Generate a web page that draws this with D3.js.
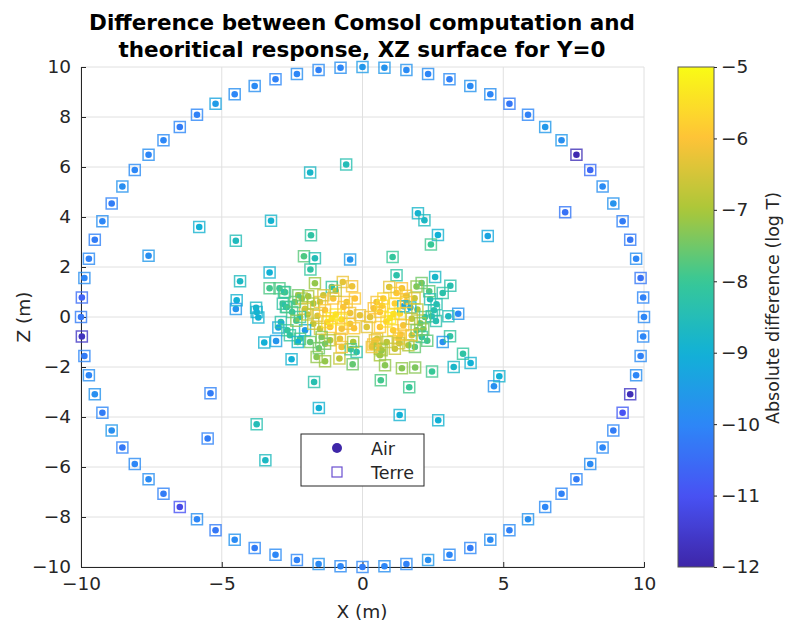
<!DOCTYPE html>
<html>
<head>
<meta charset="utf-8">
<script src="https://cdn.jsdelivr.net/npm/d3@7"></script>
<style>
  body { margin: 0; background: #fff; }
  svg { font-family: "DejaVu Sans", sans-serif; }
</style>
</head>
<body>
<svg id="chart" width="794" height="639"></svg>
<script>
// ---- data ----
const titleLines = ["Difference between Comsol computation and", "theoritical response, XZ surface for Y=0"];
const xTicks = [-10, -5, 0, 5, 10];
const zTicks = [-10, -8, -6, -4, -2, 0, 2, 4, 6, 8, 10];
const colorTicks = [-12, -11, -10, -9, -8, -7, -6, -5];
// parula colours at each colour tick
const parula = ["#3e26a8", "#4852f4", "#2d87f7", "#12b1d6", "#37c897", "#abc739", "#fec338", "#f9fb15"];
const legendLabels = ["Air", "Terre"];

// outer ring of receivers: [X, Z, air, terre]
const ring = [
  [10.00, 0.00, -10.0, -9.9], [9.97, 0.78, -10.1, -10.0], [9.88, 1.56, -10.4, -10.3], [9.72, 2.33, -10.0, -9.8],
  [9.51, 3.09, -10.3, -10.2], [9.24, 3.83, -10.2, -10.1], [8.91, 4.54, -9.7, -9.7], [8.53, 5.22, -9.9, -9.8],
  [8.09, 5.88, -10.6, -10.5], [7.60, 6.49, -11.9, -11.8], [7.07, 7.07, -9.8, -9.6], [6.49, 7.60, -9.6, -9.6],
  [5.88, 8.09, -10.1, -10.0], [5.22, 8.53, -10.3, -10.2], [4.54, 8.91, -10.0, -9.8], [3.83, 9.24, -9.9, -9.7],
  [3.09, 9.51, -10.1, -9.9], [2.33, 9.72, -10.0, -9.8], [1.56, 9.88, -9.9, -9.7], [0.78, 9.97, -9.7, -9.6],
  [0.00, 10.00, -9.6, -9.5], [-0.78, 9.97, -10.0, -9.8], [-1.56, 9.88, -10.1, -9.9], [-2.33, 9.72, -10.0, -9.8],
  [-3.09, 9.51, -10.1, -10.0], [-3.83, 9.24, -9.9, -9.8], [-4.54, 8.91, -10.0, -9.8], [-5.22, 8.53, -9.5, -9.3],
  [-5.88, 8.09, -10.1, -10.0], [-6.49, 7.60, -10.2, -10.0], [-7.07, 7.07, -10.0, -9.9], [-7.60, 6.49, -10.0, -9.8],
  [-8.09, 5.88, -10.0, -9.9], [-8.53, 5.22, -9.8, -9.7], [-8.91, 4.54, -10.2, -10.1], [-9.24, 3.83, -10.0, -9.8],
  [-9.51, 3.09, -10.2, -10.1], [-9.72, 2.33, -10.1, -9.9], [-9.88, 1.56, -10.0, -9.8], [-9.97, 0.78, -10.7, -10.5],
  [-10.00, 0.00, -10.3, -10.2], [-9.97, -0.78, -11.7, -11.6], [-9.88, -1.56, -10.2, -10.0], [-9.72, -2.33, -10.0, -9.8],
  [-9.51, -3.09, -9.8, -9.7], [-9.24, -3.83, -10.2, -10.0], [-8.91, -4.54, -9.8, -9.6], [-8.53, -5.22, -10.3, -10.1],
  [-8.09, -5.88, -10.0, -9.9], [-7.60, -6.49, -9.9, -9.8], [-7.07, -7.07, -10.2, -10.1], [-6.49, -7.60, -11.2, -11.0],
  [-5.88, -8.09, -10.0, -9.8], [-5.22, -8.53, -10.3, -10.2], [-4.54, -8.91, -9.9, -9.7], [-3.83, -9.24, -10.2, -10.0],
  [-3.09, -9.51, -10.0, -9.9], [-2.33, -9.72, -10.1, -10.0], [-1.56, -9.88, -9.9, -9.7], [-0.78, -9.97, -10.0, -9.9],
  [0.00, -10.00, -10.2, -10.0], [0.78, -9.97, -10.0, -9.8], [1.56, -9.88, -10.1, -9.9], [2.33, -9.72, -9.8, -9.6],
  [3.09, -9.51, -10.0, -9.9], [3.83, -9.24, -10.2, -10.0], [4.54, -8.91, -9.9, -9.8], [5.22, -8.53, -10.1, -9.9],
  [5.88, -8.09, -9.8, -9.7], [6.49, -7.60, -10.0, -9.9], [7.07, -7.07, -10.1, -10.0], [7.60, -6.49, -10.2, -10.0],
  [8.09, -5.88, -9.9, -9.8], [8.53, -5.22, -10.0, -9.9], [8.91, -4.54, -10.2, -10.0], [9.24, -3.83, -11.0, -10.8],
  [9.51, -3.09, -11.8, -11.6], [9.72, -2.33, -10.0, -9.8], [9.88, -1.56, -10.1, -9.9], [9.97, -0.78, -10.0, -9.9]
];

// scattered interior receivers: [X, Z, air, terre]
const inner = [
  [-5.80, 3.60, -9.0, -8.9], [-7.60, 2.45, -9.8, -9.6], [-4.50, 3.05, -8.6, -8.5], [-3.25, 3.85, -8.9, -8.8],
  [-1.86, 5.78, -8.8, -8.7], [-0.58, 6.10, -8.5, -8.4], [-1.83, 3.27, -8.2, -8.1], [-2.08, 2.43, -7.8, -7.7],
  [-1.69, 2.35, -8.5, -8.4], [-0.44, 2.30, -9.7, -9.5], [-1.85, 1.90, -8.2, -8.1], [-3.30, 1.78, -9.0, -8.9],
  [-4.35, 1.43, -8.7, -8.6], [-1.69, 1.35, -7.2, -7.1], [-0.70, 1.40, -6.3, -6.2], [-0.37, 1.23, -6.2, -6.1],
  [-1.09, 1.20, -8.3, -8.2], [-3.30, 1.15, -7.9, -7.8], [-2.95, 1.15, -7.9, -7.8], [-2.75, 0.99, -7.8, -7.7],
  [7.20, 4.19, -10.4, -10.3], [1.97, 4.15, -8.9, -8.8], [2.20, 3.87, -8.7, -8.6], [2.68, 3.28, -9.0, -8.9],
  [2.43, 2.90, -8.0, -7.9], [4.45, 3.24, -9.3, -9.2], [1.07, 2.40, -8.1, -8.0], [1.21, 1.67, -8.3, -8.2],
  [2.58, 1.60, -8.8, -8.7], [3.12, 1.25, -8.4, -8.3], [1.92, 1.22, -7.3, -7.2], [2.10, 1.36, -7.6, -7.5],
  [2.37, 1.03, -7.8, -7.7], [2.85, 0.96, -8.3, -8.2], [1.55, 0.85, -6.3, -6.2], [1.21, 0.96, -5.9, -5.8],
  [-5.40, -3.05, -10.2, -10.1], [-5.50, -4.86, -10.2, -10.1], [-1.72, -2.60, -8.4, -8.3], [-1.55, -3.64, -9.0, -8.9],
  [-3.76, -4.29, -8.5, -8.4], [-3.45, -5.73, -8.7, -8.6], [0.65, -2.53, -7.9, -7.8], [1.66, -2.81, -8.0, -7.9],
  [1.32, -3.92, -9.0, -8.9], [2.69, -4.13, -9.0, -8.9], [4.67, -2.77, -9.8, -9.7], [4.86, -2.37, -9.0, -8.9],
  [2.47, -2.18, -8.0, -7.9], [3.24, -2.00, -8.8, -8.7], [1.40, -2.05, -7.3, -7.2], [1.87, -2.02, -7.4, -7.3],
  [-4.47, 0.67, -9.0, -8.9], [-4.50, 0.32, -9.7, -9.6], [-2.83, 0.53, -8.3, -8.2], [-2.72, 0.40, -8.3, -8.2],
  [-3.78, 0.37, -8.8, -8.7], [-3.76, 0.20, -9.0, -8.9], [-3.70, -0.02, -9.0, -8.9], [-2.99, -0.42, -9.3, -9.2],
  [-2.67, -0.53, -8.1, -8.0], [-3.07, -0.96, -9.7, -9.3], [-3.49, -1.02, -9.0, -8.9], [-2.52, -1.69, -9.0, -8.9],
  [-1.33, -1.77, -7.2, -7.1], [-1.63, -1.60, -7.3, -7.2], [-0.82, -1.66, -6.8, -6.7], [-0.35, -1.89, -7.6, -7.5],
  [-0.21, -1.40, -8.4, -8.3], [-0.42, -1.29, -7.9, -7.8], [0.52, -0.87, -6.5, -6.4], [0.62, -1.53, -7.1, -7.0],
  [0.68, -1.33, -7.2, -7.1], [0.80, -1.93, -7.3, -7.2], [3.57, -1.47, -8.2, -8.1], [3.84, -1.84, -9.0, -8.9],
  [3.11, -0.77, -8.2, -8.1], [2.85, -1.00, -9.8, -9.6], [3.40, 0.13, -9.9, -9.7], [3.05, 0.03, -8.6, -8.5],
  [2.61, -0.16, -8.4, -8.3], [2.54, 0.27, -8.3, -8.2], [2.63, 0.51, -8.5, -8.4], [2.40, 0.71, -8.5, -8.4],
  [2.46, 0.03, -8.5, -8.4], [1.70, 0.38, -9.2, -8.8], [1.45, 0.43, -9.4, -8.9], [2.22, 0.00, -7.9, -7.8],
  [2.11, -0.80, -8.2, -8.1], [2.16, -0.49, -7.6, -7.5], [1.86, -1.20, -7.7, -7.6], [1.63, -1.13, -7.0, -6.9],
  [1.29, -0.86, -6.3, -6.2], [0.38, -1.10, -6.1, -6.0],
  // dense centre, left lobe
  [-1.09, -0.05, -5.3, -5.3], [-0.95, 0.10, -5.5, -5.4], [-1.25, -0.20, -5.6, -5.5], [-2.79, 1.00, -8.2, -8.1],
  [-2.16, 0.74, -7.0, -6.9], [-1.75, 0.54, -7.2, -7.1], [-1.51, 0.60, -6.3, -6.2], [-2.04, 0.33, -6.5, -6.4],
  [-1.33, 0.27, -6.0, -5.9], [-0.68, 0.40, -6.0, -5.9], [-0.44, 0.16, -6.2, -6.1], [-0.09, 0.07, -6.3, -6.2],
  [-2.22, 0.00, -8.3, -8.2], [-2.04, -0.53, -9.5, -9.0], [-1.75, -0.27, -6.8, -6.7], [-1.51, -0.47, -6.6, -6.5],
  [-1.15, -0.40, -6.0, -5.9], [-0.74, -0.47, -6.1, -6.0], [-0.44, -0.27, -6.2, -6.1], [-0.80, -0.87, -6.3, -6.2],
  [-1.15, -0.93, -6.9, -6.8], [-1.45, -0.80, -7.4, -7.3], [-1.86, -1.00, -7.6, -7.5], [-2.22, -0.87, -7.9, -7.8],
  [-2.58, -0.73, -8.2, -8.1], [-1.33, -1.07, -7.5, -7.4], [-0.74, -1.20, -6.2, -6.1], [-0.33, -1.00, -7.0, -6.9],
  [-1.39, 0.87, -6.6, -6.5], [-1.04, 0.74, -6.1, -6.0], [-0.56, 0.60, -6.2, -6.1], [-0.27, 0.74, -6.0, -5.9],
  [-2.40, 0.60, -7.8, -7.7], [-2.28, 0.87, -7.6, -7.5], [-1.93, 0.83, -7.1, -7.0], [-2.69, 0.40, -8.0, -7.9],
  [-2.50, 0.20, -7.9, -7.8], [-2.35, -0.15, -7.4, -7.3], [-1.95, 0.10, -6.9, -6.8], [-1.60, 0.05, -6.4, -6.3],
  [-0.75, -0.10, -5.6, -5.5], [-0.30, -0.45, -6.0, -5.9], [-1.55, -1.25, -7.6, -7.5], [-2.30, -1.00, -9.0, -8.8],
  [-2.90, -0.20, -8.4, -8.3], [-0.95, 1.05, -6.7, -6.6],
  // dense centre, right lobe
  [0.98, -0.04, -5.3, -5.3], [1.10, 0.12, -5.5, -5.4], [0.85, -0.18, -5.6, -5.5], [0.50, 0.60, -6.2, -6.1],
  [0.74, 0.74, -5.8, -5.7], [1.15, 0.54, -5.8, -5.7], [0.62, 0.20, -6.0, -5.9], [1.33, 0.14, -5.7, -5.6],
  [0.27, 0.00, -6.3, -6.2], [0.62, -0.40, -6.0, -5.9], [1.09, -0.53, -5.8, -5.7], [1.45, -0.33, -6.1, -6.0],
  [1.75, -0.07, -6.7, -6.6], [1.92, -0.53, -7.5, -7.4], [1.75, -0.73, -6.4, -6.3], [0.44, -0.93, -6.3, -6.2],
  [0.86, -1.00, -6.8, -6.7], [1.15, -1.27, -6.7, -6.6], [0.62, -1.27, -7.1, -7.0], [0.33, -1.20, -6.3, -6.2],
  [1.55, 0.60, -6.0, -5.9], [1.85, 0.75, -6.6, -6.5], [1.95, 0.30, -6.9, -6.8], [1.40, 1.15, -6.1, -6.0],
  [0.95, 1.20, -6.4, -6.3], [0.40, 0.35, -6.1, -6.0], [0.15, -0.40, -6.4, -6.3], [2.05, -0.25, -7.2, -7.1],
  [1.35, -0.70, -6.0, -5.9], [0.70, 0.45, -5.7, -5.6], [1.30, -1.05, -6.6, -6.5], [2.30, -0.95, -7.8, -7.7]
];

// ---- layout ----
const svg = d3.select("#chart");
const x = d3.scaleLinear().domain([-10, 10]).range([81, 644]);
const y = d3.scaleLinear().domain([-10, 10]).range([567, 67]);
const color = d3.scaleLinear().domain(colorTicks).range(parula).clamp(true);
const cbY = d3.scaleLinear().domain([-12, -5]).range([567, 67]);
const cbX0 = 678, cbX1 = 714;
const minus = d => d < 0 ? "\u2212" + Math.abs(d) : d;

// grid
svg.append("g").selectAll("line").data(xTicks).join("line")
  .attr("x1", d => x(d)).attr("x2", d => x(d)).attr("y1", y(-10)).attr("y2", y(10))
  .attr("stroke", "#e0e0e0").attr("stroke-width", 1);
svg.append("g").selectAll("line").data(zTicks).join("line")
  .attr("x1", x(-10)).attr("x2", x(10)).attr("y1", d => y(d)).attr("y2", d => y(d))
  .attr("stroke", "#e0e0e0").attr("stroke-width", 1);

// axes (left + bottom, ticks inward)
const xAxis = d3.axisBottom(x).tickValues(xTicks).tickSize(-5).tickPadding(10).tickFormat(minus);
const yAxis = d3.axisLeft(y).tickValues(zTicks).tickSize(-5).tickPadding(10).tickFormat(minus);
const gx = svg.append("g").attr("transform", `translate(0,${y(-10)})`).call(xAxis);
const gy = svg.append("g").attr("transform", `translate(${x(-10)},0)`).call(yAxis);
[gx, gy].forEach(g => {
  g.select(".domain").attr("stroke", "#262626");
  g.selectAll(".tick line").attr("stroke", "#262626");
  g.selectAll("text").attr("fill", "#262626").attr("font-size", 18.5).attr("font-family", "DejaVu Sans");
});

// markers: air dots then terre squares
const all = ring.concat(inner);
const sq = 11;
svg.append("g").selectAll("circle").data(all).join("circle")
  .attr("cx", d => x(d[0])).attr("cy", d => y(d[1])).attr("r", 3.3)
  .attr("fill", d => color(d[2]));
svg.append("g").selectAll("rect").data(all).join("rect")
  .attr("x", d => x(d[0]) - sq / 2).attr("y", d => y(d[1]) - sq / 2)
  .attr("width", sq).attr("height", sq)
  .attr("fill", "none").attr("stroke", d => color(d[3])).attr("stroke-width", 1.5).attr("stroke-opacity", 0.8);

// legend
const lg = svg.append("g");
lg.append("rect").attr("x", 301).attr("y", 434).attr("width", 123).attr("height", 52)
  .attr("fill", "#fff").attr("stroke", "#262626").attr("stroke-width", 1);
lg.append("circle").attr("cx", 337).attr("cy", 448).attr("r", 5).attr("fill", color(-12));
lg.append("rect").attr("x", 332).attr("y", 467).attr("width", 10).attr("height", 10)
  .attr("fill", "none").attr("stroke", "#6a4fd0").attr("stroke-width", 1.2);
lg.selectAll("text").data(legendLabels).join("text")
  .attr("x", 371).attr("y", (d, i) => 455 + i * 24).attr("font-size", 17.5).attr("fill", "#262626").text(d => d);

// colorbar
const grad = svg.append("defs").append("linearGradient").attr("id", "cb")
  .attr("x1", 0).attr("y1", 1).attr("x2", 0).attr("y2", 0);
grad.selectAll("stop").data(d3.range(0, 1.0001, 0.02)).join("stop")
  .attr("offset", d => d).attr("stop-color", d => color(-12 + 7 * d));
svg.append("rect").attr("x", cbX0).attr("y", cbY(-5)).attr("width", cbX1 - cbX0).attr("height", cbY(-12) - cbY(-5))
  .attr("fill", "url(#cb)").attr("stroke", "#555").attr("stroke-width", 1);
const cAxis = d3.axisRight(cbY).tickValues(colorTicks).tickSize(3).tickPadding(4).tickFormat(minus);
const gc = svg.append("g").attr("transform", `translate(${cbX1},0)`).call(cAxis);
gc.select(".domain").remove();
gc.selectAll(".tick line").attr("stroke", "#262626");
gc.selectAll("text").attr("fill", "#262626").attr("font-size", 18.5).attr("font-family", "DejaVu Sans");

// labels
svg.append("text").attr("x", 362).attr("y", 618).attr("text-anchor", "middle")
  .attr("font-size", 18.5).attr("fill", "#262626").text("X (m)");
svg.append("text").attr("transform", "translate(30,317) rotate(-90)").attr("text-anchor", "middle")
  .attr("font-size", 18.5).attr("fill", "#262626").text("Z (m)");
svg.append("text").attr("transform", "translate(779,308) rotate(-90)").attr("text-anchor", "middle")
  .attr("font-size", 17.5).attr("fill", "#262626").text("Absolute difference (log T)");
svg.append("g").selectAll("text").data(titleLines).join("text")
  .attr("x", 362).attr("y", (d, i) => 30 + i * 27).attr("text-anchor", "middle")
  .attr("font-size", 21.5).attr("font-weight", "bold").attr("fill", "#000").text(d => d);
</script>
</body>
</html>
